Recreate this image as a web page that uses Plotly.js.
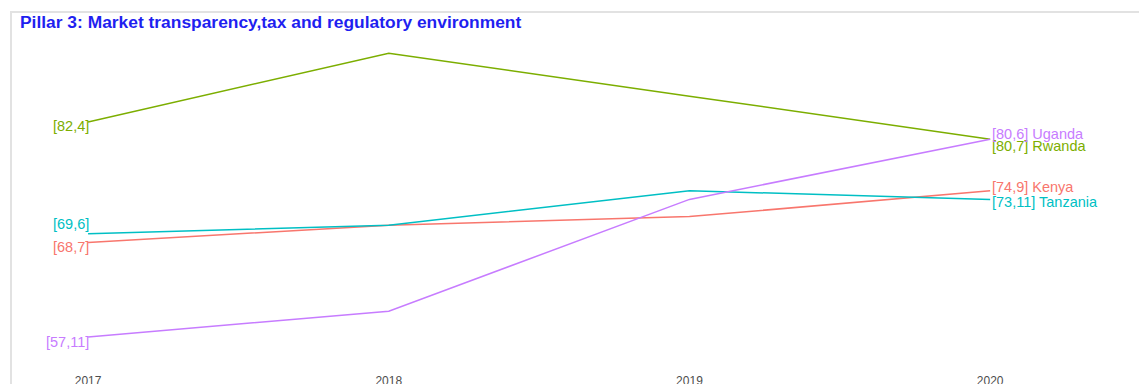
<!DOCTYPE html>
<html>
<head>
<meta charset="utf-8">
<script src="https://cdn.plot.ly/plotly-3.0.1.min.js"></script>
<style>
  html, body { margin: 0; padding: 0; background: #fff; overflow: hidden; width: 1139px; height: 384px; }
  #frame { position: absolute; left: 10px; top: 11px; width: 1129px; height: 400px;
           border-left: 2px solid #e2e2e2; border-top: 2px solid #e2e2e2; }
  #chart { width: 1127px; height: 400px; }
</style>
</head>
<body>
<div id="frame"><div id="chart"></div></div>
<script>
// Data
const years = [2017, 2018, 2019, 2020];
const countries = ["Kenya", "Rwanda", "Tanzania", "Uganda"];
const kenya    = [68, 70, 71, 74];
const rwanda   = [82, 90, 85, 80];
const tanzania = [69, 70, 74, 73];
const uganda   = [57, 60, 73, 80];
const rankFirst = [7, 4, 6, 11];   // rank in 2017
const rankLast  = [9, 7, 11, 6];   // rank in 2020
const colors = ["#F8766D", "#7CAE00", "#00BFC4", "#C77CFF"];
// label vertical nudges (styling only)
const shiftFirst = [-5, -4, 9.5, -4.5];
const shiftLast  = [4, -7, -3, 5.5];

const series = [kenya, rwanda, tanzania, uganda];

const traces = series.map((vals, i) => ({
  x: years, y: vals, type: "scatter", mode: "lines",
  name: countries[i], line: { color: colors[i], width: 1.5 },
  hoverinfo: "skip", showlegend: false
}));

const labelFont = (c) => ({ family: "Liberation Sans, Arial, sans-serif", size: 14.5, color: c });
const annotations = [];
series.forEach((vals, i) => {
  annotations.push({
    x: years[0], y: vals[0], xref: "x", yref: "y",
    text: "[" + vals[0] + "," + rankFirst[i] + "]",
    showarrow: false, xanchor: "right", yanchor: "middle",
    xshift: 3, yshift: shiftFirst[i], font: labelFont(colors[i])
  });
  const n = vals.length - 1;
  annotations.push({
    x: years[n], y: vals[n], xref: "x", yref: "y",
    text: "[" + vals[n] + "," + rankLast[i] + "] " + countries[i],
    showarrow: false, xanchor: "left", yanchor: "middle",
    xshift: 0, yshift: shiftLast[i], font: labelFont(colors[i])
  });
});

const layout = {
  width: 1127, height: 400,
  margin: { l: 0, r: 0, t: 0, b: 45 },
  paper_bgcolor: "#fff", plot_bgcolor: "#fff",
  title: {
    text: "<b>Pillar 3: Market transparency,tax and regulatory environment</b>",
    font: { family: "Liberation Sans, Arial, sans-serif", size: 17.4, color: "#1f1ff0" },
    xref: "container", x: 8 / 1127, xanchor: "left",
    yref: "container", y: 1 - 8.5 / 400, yanchor: "middle"
  },
  xaxis: {
    range: [2016.747, 2020.495], tickvals: years, ticktext: years.map(String),
    showgrid: false, zeroline: false, showline: false, ticks: "",
    ticklabelstandoff: 4,
    tickfont: { family: "Liberation Sans, Arial, sans-serif", size: 12, color: "#4d4d4d" }
  },
  yaxis: {
    range: [53.396, 94.674], visible: false, showgrid: false, zeroline: false
  },
  annotations: annotations,
  showlegend: false
};

Plotly.newPlot("chart", traces, layout, { displayModeBar: false, staticPlot: true });
</script>
</body>
</html>
